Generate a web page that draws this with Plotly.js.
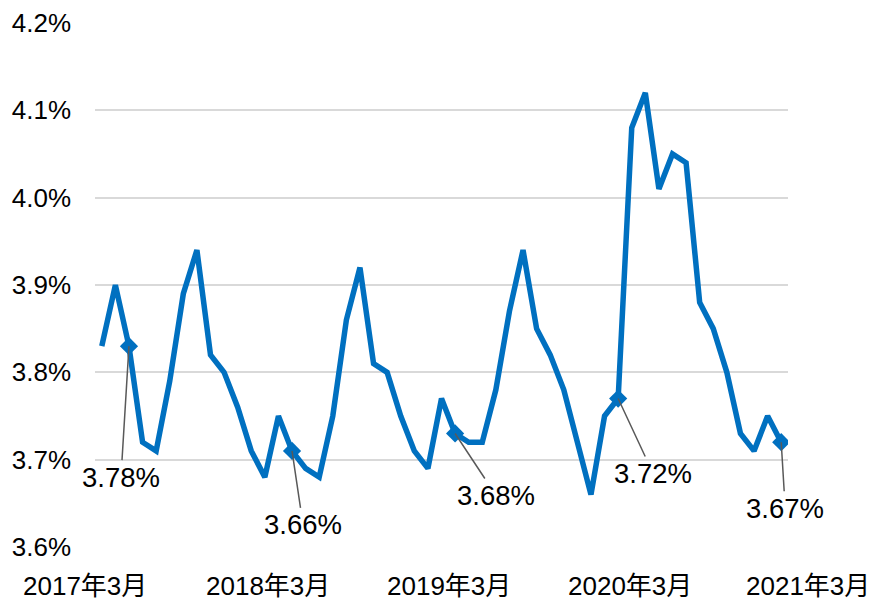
<!DOCTYPE html>
<html>
<head>
<meta charset="utf-8">
<script src="https://cdn.plot.ly/plotly-3.0.1.min.js"></script>
<style>html,body{margin:0;padding:0;background:#fff;}#chart{width:872px;height:602px;}</style>
</head>
<body>
<div id="chart"></div>
<script>
// Monthly values (%), 51 points
const values = [3.83,3.90,3.83,3.72,3.71,3.79,3.89,3.94,3.82,3.80,3.76,3.71,
                3.68,3.75,3.71,3.69,3.68,3.75,3.86,3.92,3.81,3.80,3.75,3.71,
                3.69,3.77,3.73,3.72,3.72,3.78,3.87,3.94,3.85,3.82,3.78,3.72,
                3.66,3.75,3.77,4.08,4.12,4.01,4.05,4.04,3.88,3.85,3.80,3.73,
                3.71,3.75,3.72];
// Highlighted points (index into values) and their callout labels
const markerIdx = [2, 14, 26, 38, 50];
const markerLabels = ["3.78%", "3.66%", "3.68%", "3.72%", "3.67%"];
// X-axis labels
const xLabels = ["2017年3月", "2018年3月", "2019年3月", "2020年3月", "2021年3月"];
// Y ticks
const yTicks = [3.6, 3.7, 3.8, 3.9, 4.0, 4.1, 4.2];
const yTickText = ["3.6%", "3.7%", "3.8%", "3.9%", "4.0%", "4.1%", "4.2%"];

const xs = values.map((v, i) => i);
const FONT = "'Liberation Sans', Arial, 'Noto Sans CJK JP', sans-serif";
const BLUE = "#0070C0";

const traces = [
  {x: xs, y: values, type: 'scatter', mode: 'lines',
   line: {color: BLUE, width: 5.5}, hoverinfo: 'skip'},
  {x: markerIdx, y: markerIdx.map(i => values[i]), type: 'scatter', mode: 'markers',
   marker: {symbol: 'diamond', size: 14, color: BLUE}, hoverinfo: 'skip'}
];

// callout offsets (px) for labels
const offs = [[-8, 131], [11, 74], [41, 62], [35, 75], [4, 66]];
const annotations = markerIdx.map((idx, k) => ({
  x: idx, y: values[idx], xref: 'x', yref: 'y',
  text: markerLabels[k], showarrow: true, arrowhead: 0, arrowwidth: 1.5,
  arrowcolor: '#595959', ax: offs[k][0], ay: offs[k][1], standoff: 0,
  font: {family: FONT, size: 27.5, color: '#000'}
}));
const xLabelPos = [-0.0144, 0.2496, 0.5108, 0.772, 1.029];
xLabels.forEach((t, k) => annotations.push({
  x: xLabelPos[k], y: -0.0735, xref: 'paper', yref: 'paper',
  xanchor: 'center', yanchor: 'middle', text: t, showarrow: false,
  font: {family: FONT, size: 26, color: '#000'}
}));

const layout = {
  width: 872, height: 602,
  margin: {l: 95, r: 84, t: 22.5, b: 54.5},
  paper_bgcolor: '#fff', plot_bgcolor: '#fff',
  showlegend: false,
  xaxis: {range: [-0.5, values.length - 0.5], showgrid: false, zeroline: false,
          showline: false, showticklabels: false, ticks: ''},
  yaxis: {range: [3.6, 4.2], tickvals: yTicks, ticktext: yTickText,
          showgrid: true, gridcolor: '#d9d9d9', gridwidth: 2, zeroline: false,
          showline: false, ticks: '', ticklabelstandoff: 23,
          tickfont: {family: FONT, size: 26, color: '#000'}},
  annotations: annotations
};
Plotly.newPlot('chart', traces, layout, {staticPlot: true, displayModeBar: false});
</script>
</body>
</html>
